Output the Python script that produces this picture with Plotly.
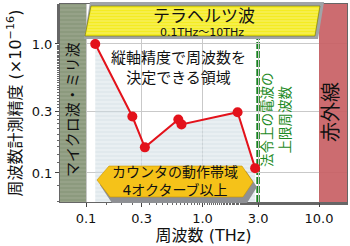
import plotly.graph_objects as go

# ---- data ----
freq_thz = [0.12, 0.25, 0.32, 0.62, 0.66, 2.0, 2.83]
precision = [1.0, 0.274, 0.158, 0.26, 0.238, 0.296, 0.109]
x_tick_vals = [0.1, 0.3, 1.0, 3.0, 10.0]
x_tick_text = ["0.1", "0.3", "1.0", "3.0", "10.0"]
y_tick_vals = [0.1, 0.3, 1.0]
y_tick_text = ["0.1", "0.3", "1.0"]
microwave_upper = 0.1      # THz
infrared_lower = 10.0      # THz
legal_limit = 3.0          # THz

# ---- layout geometry ----
W, H = 350, 246
ML, MR, MT, MB = 60, 3, 4, 44
PW, PH = W - ML - MR, H - MT - MB
XR = [-1.2232, -1.2232 + PW / 116.5]
YR = [-1.225, 0.310]
FONT = "DejaVu Sans, Noto Sans CJK JP, sans-serif"


def px(x):
    return (x - ML) / PW


def py(y):
    return (H - MB - y) / PH


def path(points):
    return "M " + " L ".join(f"{px(a):.4f},{py(b):.4f}" for a, b in points) + " Z"


fig = go.Figure()

far_lo, far_hi = 1e-3, 1e3
# microwave band
fig.add_trace(go.Scatter(
    x=[far_lo, microwave_upper, microwave_upper, far_lo],
    y=[far_lo, far_lo, far_hi, far_hi], mode="none", fill="toself",
    fillcolor="#8e9b80",
    fillpattern=dict(shape="-", bgcolor="#8c9a7e", fgcolor="#a7b29a", size=4, solidity=0.35),
    hoverinfo="skip", showlegend=False))
# infrared band
fig.add_trace(go.Scatter(
    x=[infrared_lower, far_hi, far_hi, infrared_lower],
    y=[far_lo, far_lo, far_hi, far_hi], mode="none", fill="toself",
    fillcolor="rgba(200,95,100,0.92)", hoverinfo="skip", showlegend=False))
# region under the curve
fig.add_trace(go.Scatter(
    x=freq_thz + [freq_thz[-1], freq_thz[0]],
    y=precision + [far_lo, far_lo], mode="none", fill="toself",
    fillcolor="rgba(205,218,225,0.6)",
    fillpattern=dict(shape="-", bgcolor="rgba(205,218,225,0.6)", fgcolor="rgba(255,255,255,0.85)",
                     size=4, solidity=0.3),
    hoverinfo="skip", showlegend=False))
# measured precision
fig.add_trace(go.Scatter(
    x=freq_thz, y=precision, mode="lines+markers",
    line=dict(color="#e3121b", width=2),
    marker=dict(color="#e3121b", size=10),
    showlegend=False))

shapes = []
# legal upper limit
shapes.append(dict(type="line", xref="x", yref="paper",
                   x0=legal_limit, x1=legal_limit, y0=0, y1=1,
                   line=dict(color="#15801e", width=3.5, dash="7px,2px"), layer="between"))
# title box shadow + box
shapes.append(dict(type="path", xref="paper", yref="paper", layer="above",
                   path=path([(84, 39), (90, 2), (324, 2), (318, 39)]),
                   fillcolor="#a0a4a8", line=dict(width=0)))
shapes.append(dict(type="path", xref="paper", yref="paper", layer="above",
                   path=path([(85, 36), (91, 6), (320, 6), (315, 36)]),
                   fillcolor="#f4ec22", line=dict(color="#707000", width=0.6)))
for yy in range(9, 36, 3):
    shapes.append(dict(type="line", xref="paper", yref="paper", layer="above",
                       x0=px(85 + (36 - yy) * 0.2 + 1), x1=px(315 + (36 - yy) * 0.167 - 1),
                       y0=py(yy), y1=py(yy), line=dict(color="#f9f59a", width=0.7)))
# counter band arrow shadow + arrow
shapes.append(dict(type="path", xref="paper", yref="paper", layer="above",
                   path=path([(100, 185), (112, 171), (246, 171), (257, 187), (247, 203), (112, 203)]),
                   fillcolor="#8e9094", line=dict(width=0)))
shapes.append(dict(type="path", xref="paper", yref="paper", layer="above",
                   path=path([(97, 180), (109, 166), (242, 166), (253, 182), (243, 197), (110, 197)]),
                   fillcolor="#f5c219", line=dict(color="#c89400", width=0.6)))

fig.update_layout(shapes=shapes)

ann = []
def add_text(x, y, text, size, color="#111111", angle=0):
    ann.append(dict(xref="paper", yref="paper", x=px(x), y=py(y), text=text, showarrow=False,
                    textangle=angle, font=dict(size=size, color=color, family=FONT),
                    xanchor="center", yanchor="middle"))

add_text(204, 16, "テラヘルツ波", 17)
add_text(202, 32.5, "0.1THz〜10THz", 11)
add_text(178, 68, "縦軸精度で周波数を<br>決定できる領域", 15)
add_text(175, 181, "カウンタの動作帯域<br>4オクターブ以上", 14)
add_text(73, 110, "マイクロ波・ミリ波", 15, angle=-90)
add_text(331, 112, "赤外線", 20, angle=-90)
add_text(276, 120, "法令上の電波の<br>上限周波数", 13.5, color="#1c8a24", angle=-90)
fig.update_layout(annotations=ann)

axis_common = dict(type="log", showline=True, linecolor="#666666", linewidth=1, mirror=True,
                   showgrid=True, gridcolor="#c9c9c9", gridwidth=1, zeroline=False,
                   automargin=False,
                   ticks="outside", ticklen=4, tickcolor="#444444",
                   minor=dict(ticks="outside", ticklen=2, tickcolor="#666666", showgrid=False),
                   tickfont=dict(size=13, color="#111111", family=FONT))

fig.update_xaxes(range=XR, tickvals=x_tick_vals, ticktext=x_tick_text,
                 title=dict(text="周波数 (THz)", font=dict(size=16, color="#111111", family=FONT), standoff=4),
                 **axis_common)
fig.update_yaxes(range=YR, tickvals=y_tick_vals, ticktext=y_tick_text,
                 title=dict(text="周波数計測精度 (×10<sup>−16</sup>)",
                            font=dict(size=16, color="#111111", family=FONT), standoff=6),
                 **axis_common)

fig.update_layout(width=W, height=H, margin=dict(l=ML, r=MR, t=MT, b=MB, autoexpand=False),
                  paper_bgcolor="white", plot_bgcolor="white",
                  font=dict(family=FONT, color="#111111"), showlegend=False)

fig.write_html("out.html")
